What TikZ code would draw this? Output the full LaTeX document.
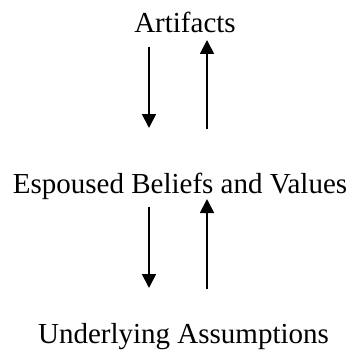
\documentclass[tikz,border=0pt]{standalone}
\usepackage{fontspec}
\setmainfont{Liberation Serif}
\usetikzlibrary{arrows.meta}
\tikzset{
  lbl/.style={anchor=base, inner sep=0pt, font=\fontsize{29}{34}\selectfont},
  arr/.style={line width=1.8pt, -{Triangle[length=14pt,width=14pt]}}
}
\begin{document}
\begin{tikzpicture}[x=1pt,y=-1pt]
\useasboundingbox (0,0) rectangle (364,353);
\node[lbl] (art) at (185,33) {Artifacts};
\node[lbl] (esp) at (180,193) {Espoused Beliefs and Values};
\node[lbl] (und) at (183.5,343) {Underlying Assumptions};
\coordinate (d1s) at (149,47);
\coordinate (d1e) at (149,128);
\coordinate (u1s) at (207,129);
\coordinate (u1e) at (207,40);
\coordinate (d2s) at (149,207);
\coordinate (d2e) at (149,288);
\coordinate (u2s) at (207,289);
\coordinate (u2e) at (207,199);
\draw[arr] (d1s) -- (d1e);
\draw[arr] (u1s) -- (u1e);
\draw[arr] (d2s) -- (d2e);
\draw[arr] (u2s) -- (u2e);
\end{tikzpicture}
\end{document}
